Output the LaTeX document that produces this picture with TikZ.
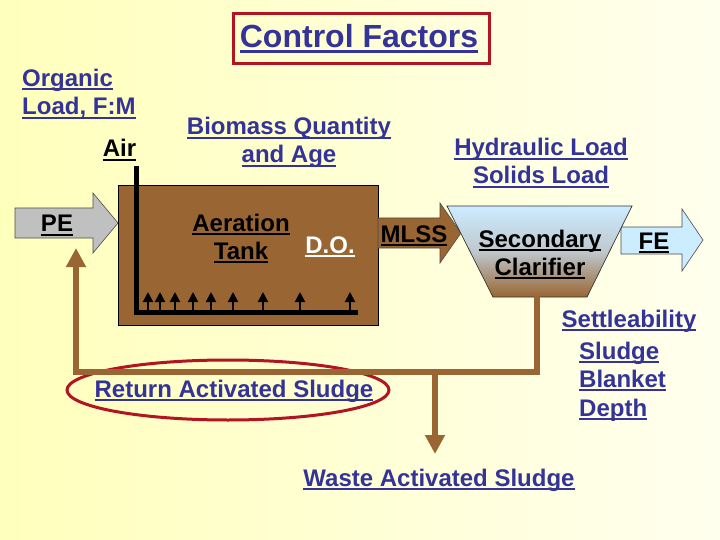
\documentclass[tikz,border=0pt]{standalone}
\usepackage{fontspec}
\setmainfont{Liberation Sans}
\usetikzlibrary{arrows.meta,shapes.geometric}
\definecolor{navy}{RGB}{51,51,153}
\definecolor{boxred}{RGB}{178,20,34}
\definecolor{brownish}{RGB}{153,102,51}
\definecolor{lblue}{RGB}{204,236,255}
\definecolor{peg}{RGB}{192,192,192}
\definecolor{bgyel}{RGB}{255,255,188}
\definecolor{bgwhite}{RGB}{255,255,238}
\newlength\myulw
\newcommand\myul[1]{\settowidth\myulw{#1}\rlap{\rule[-0.16em]{\myulw}{0.095em}}#1}
\tikzset{
  lbl/.style={font=\fontsize{24}{28}\selectfont\bfseries, inner sep=0pt, anchor=base, align=center},
  lbll/.style={font=\fontsize{24}{28.5}\selectfont\bfseries, inner sep=0pt, anchor=base west, align=left},
  pipe/.style={line width=5pt, black},
  bubble/.style={line width=2pt, black, -{Triangle[width=10pt,length=10pt]}},
  flow/.style={line width=6pt, brownish},
  flowarrow/.style={flow, -{Triangle[width=19pt,length=19pt]}},
  outl/.style={draw=black!70, line width=0.6pt},
}
\begin{document}
\begin{tikzpicture}[x=1pt,y=-1pt]
\useasboundingbox (0,0) rectangle (720,540);
\shade[left color=bgyel, right color=bgwhite] (0,0) rectangle (720,540);

% title
\node[draw=boxred, line width=3pt, minimum width=256pt, minimum height=50pt, inner sep=0pt] (titlebox) at (361,39) {};
\node[lbl, text=navy, font=\fontsize{32}{36}\selectfont\bfseries] (title) at (359,48) {\myul{Control Factors}};

% control factor labels (anchor = baseline of last line)
\node[lbll, text=navy] (organic) at (22,115) {\myul{Organic}\\\myul{Load, F:M}};
\node[lbl, text=black] (air) at (119.5,157) {\myul{Air}};
\node[lbl, text=navy] (biomass) at (289,163) {\myul{Biomass Quantity}\\\myul{and Age}};
\node[lbl, text=navy] (hydraulic) at (541,184) {\myul{Hydraulic Load}\\\myul{Solids Load}};
\node[lbl, text=navy] (settle) at (629,327) {\myul{Settleability}};
\node[lbll, text=navy] (sbd) at (579,416) {\myul{Sludge}\\\myul{Blanket}\\\myul{Depth}};

% aeration tank
\node[fill=brownish, draw=black, line width=0.8pt, minimum width=260pt, minimum height=140pt, inner sep=0pt] (tank) at (248,255) {};
\coordinate (airtop) at (136,166);
\coordinate (aircorner) at (136,312);
\coordinate (airend) at (358,312);
\draw[pipe] (airtop) -- (aircorner) -- (airend);
\foreach \bx in {148,160,175,193,211,233,263,300,350}{
  \draw[bubble] (\bx,312) -- (\bx,292);
}
\node[lbl, text=black] (aer) at (241,259) {\myul{Aeration}\\\myul{Tank}};
\node[lbl, text=white] (do) at (330,253) {\myul{D.O.}};

% PE arrow
\draw[outl, fill=peg] (15,208) -- (93,208) -- (93,193) -- (118,223) -- (93,253) -- (93,238) -- (15,238) -- cycle;
\node[lbl, text=black] (pe) at (57,232) {\myul{PE}};

% MLSS arrow
\draw[outl, fill=brownish] (378,218) -- (440,218) -- (440,203) -- (461,233) -- (440,263) -- (440,248) -- (378,248) -- cycle;

% FE arrow
\draw[outl, fill=lblue] (621,227) -- (682,227) -- (682,209) -- (703,240) -- (682,271) -- (682,254) -- (621,254) -- cycle;
\node[lbl, text=black] (fe) at (654,249) {\myul{FE}};

% clarifier
\shade[top color=lblue, bottom color=brownish, middle color={rgb,255:red,190;green,200;blue,205}] (447,206) -- (632,206) -- (587,297) -- (493,297) -- cycle;
\draw[black!80, line width=0.7pt] (447,206) -- (632,206) -- (587,297) -- (493,297) -- cycle;
\node[lbl, text=black] (mlss) at (414,242) {\myul{MLSS}};
\node[lbl, text=black] (clar) at (540,275) {\myul{Secondary}\\\myul{Clarifier}};

% return activated sludge
\node[draw=boxred, line width=3pt, ellipse, minimum width=322pt, minimum height=60pt, inner sep=0pt] (rasell) at (228,390) {};
\coordinate (clarbot) at (537,296);
\coordinate (rascorner) at (537,372);
\coordinate (wasfork) at (435,372);
\coordinate (leftcorner) at (76,372);
\coordinate (peend) at (76,248);
\coordinate (wasend) at (435,454);
\draw[flow] (clarbot) -- (rascorner) -- (leftcorner);
\draw[flowarrow] (leftcorner) ++(0,3) -- (peend);
\draw[flowarrow] (wasfork) -- (wasend);
\node[lbl, text=navy] (ras) at (234,397) {\myul{Return Activated Sludge}};
\node[lbl, text=navy] (was) at (439,486) {\myul{Waste Activated Sludge}};
\end{tikzpicture}
\end{document}
